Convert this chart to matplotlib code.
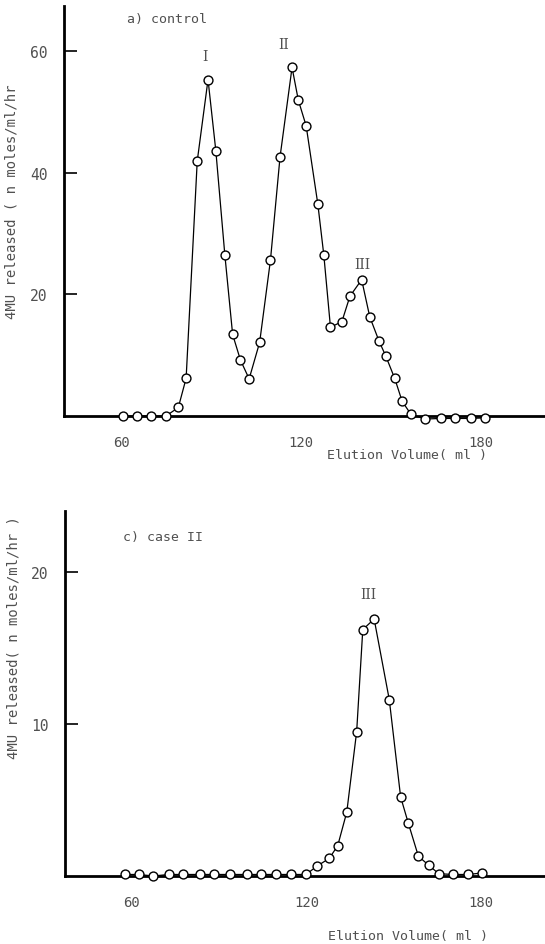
import matplotlib
matplotlib.use('Agg')
import matplotlib.pyplot as plt

# elution profiles
vol_a = [60.8, 65.2, 69.9, 75.0, 79.1, 81.7, 85.4, 89.0, 91.6, 94.6, 97.2, 99.8,
         102.7, 106.2, 109.8, 113.0, 117.0, 119.1, 121.7, 125.6, 127.6, 129.8,
         133.6, 136.3, 140.2, 142.9, 146.0, 148.2, 151.2, 153.7, 156.6, 161.4,
         166.6, 171.2, 176.6, 181.4]
act_a = [0.0, 0.0, 0.0, 0.0, 1.4, 6.2, 41.9, 55.3, 43.6, 26.5, 13.4, 9.2,
         6.1, 12.1, 25.6, 42.6, 57.3, 51.9, 47.7, 34.8, 26.4, 14.6,
         15.5, 19.7, 22.4, 16.3, 12.3, 9.9, 6.2, 2.4, 0.3, -0.5,
         -0.4, -0.4, -0.4, -0.3]

vol_c = [57.6, 62.4, 67.3, 72.7, 77.6, 83.4, 88.3, 93.8, 99.4, 104.3, 109.5,
         114.6, 119.8, 123.5, 127.8, 130.7, 133.8, 137.2, 139.3, 143.2, 148.4,
         152.3, 154.9, 158.4, 162.0, 165.4, 170.4, 175.6, 180.2]
act_c = [0.1, 0.1, 0.0, 0.1, 0.1, 0.1, 0.1, 0.1, 0.1, 0.1, 0.1,
         0.1, 0.1, 0.64, 1.16, 2.0, 4.2, 9.5, 16.2, 16.9, 11.6,
         5.2, 3.5, 1.3, 0.7, 0.15, 0.1, 0.1, 0.2]

xticks = [60, 120, 180]
yticks_a = [20, 40, 60]
yticks_c = [10, 20]

mono = 'DejaVu Sans Mono'
serif = 'DejaVu Serif'
tcol = '#505050'

fig = plt.figure(figsize=(5.45, 9.45), dpi=100)
ax1 = fig.add_axes([64/545, 528/945, 481/545, 410/945])
ax2 = fig.add_axes([65/545, 68/945, 480/545, 365/945])


def style(ax, xl, yl, yt):
    ax.set_xlim(*xl)
    ax.set_ylim(*yl)
    for s in ['top', 'right']:
        ax.spines[s].set_visible(False)
    for s in ['left', 'bottom']:
        ax.spines[s].set_linewidth(2.0)
    ax.set_xticks(xticks)
    ax.set_yticks(yt)
    ax.tick_params(axis='x', length=0, pad=14, labelsize=10, labelcolor=tcol)
    ax.tick_params(axis='y', direction='in', length=9, width=1.2, pad=12,
                   labelsize=10.5, labelcolor=tcol)
    for lab in ax.get_xticklabels() + ax.get_yticklabels():
        lab.set_family(mono)


def curve(ax, x, y):
    ax.plot(x, y, '-', color='black', lw=0.9, marker='o', ms=6.4,
            mfc='white', mec='black', mew=1.0, clip_on=False, zorder=3)


# a) control
style(ax1, (41, 201.3), (0, 67.4), yticks_a)
curve(ax1, vol_a, act_a)
ax1.text(62, 65.3, 'a) control', family=mono, fontsize=9.5, color=tcol,
         ha='left', va='center')
ax1.text(88, 59.2, 'I', family=serif, fontsize=10, color=tcol, ha='center', va='center')
ax1.text(114.3, 61.2, 'II', family=serif, fontsize=10, color=tcol, ha='center', va='center')
ax1.text(140.3, 25.0, 'III', family=serif, fontsize=10, color=tcol, ha='center', va='center')
fig.text(0.746, 0.5185, 'Elution Volume( ml )', family=mono, fontsize=9.5,
         color=tcol, ha='center', va='center')
fig.text(0.022, 0.786, '4MU released ( n moles/ml/hr', family=mono, fontsize=10,
         color=tcol, ha='center', va='center', rotation=90)

# c) case II
style(ax2, (37.0, 201.9), (0, 24.0), yticks_c)
curve(ax2, vol_c, act_c)
ax2.text(56.9, 22.3, 'c) case II', family=mono, fontsize=9.5, color=tcol,
         ha='left', va='center')
ax2.text(141.2, 18.55, 'III', family=serif, fontsize=10, color=tcol, ha='center', va='center')
fig.text(0.7495, 0.0085, 'Elution Volume( ml )', family=mono, fontsize=9.5,
         color=tcol, ha='center', va='center')
fig.text(0.024, 0.325, '4MU released( n moles/ml/hr )', family=mono, fontsize=10,
         color=tcol, ha='center', va='center', rotation=90)

fig.savefig('out.png', dpi=100, facecolor='white')
